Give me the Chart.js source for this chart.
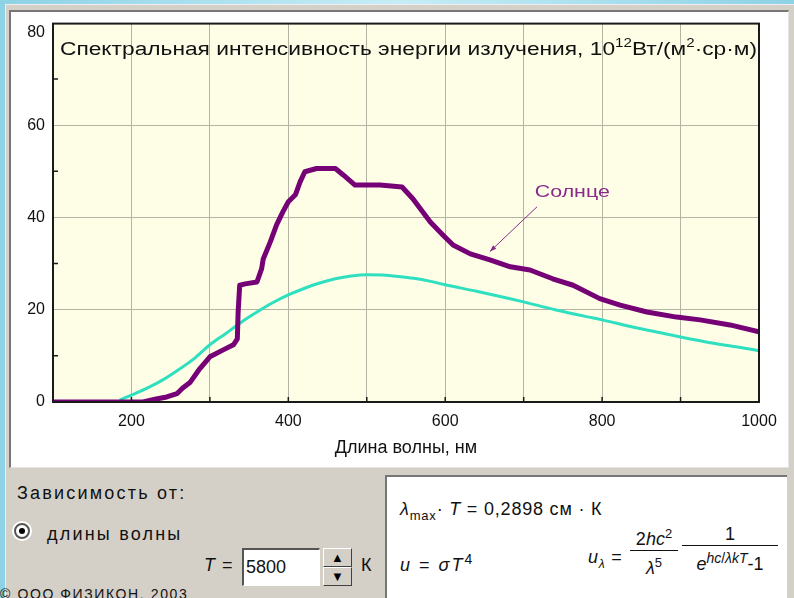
<!DOCTYPE html>
<html>
<head>
<meta charset="utf-8">
<script src="https://cdn.jsdelivr.net/npm/chart.js@4.4.0/dist/chart.umd.min.js"></script>
<style>
body { margin: 0; width: 794px; height: 598px; overflow: hidden; position: relative;
  background: linear-gradient(90deg, #8ed2e6, #c6edf6 50%, #8ed2e6);
  font-family: "Liberation Sans", Arial, sans-serif; color: #111; }
#frame { position: absolute; left: 5px; top: 4px; width: 789px; height: 594px; background: #d4d0c8;
  border-top: 1px solid #eeeeee; border-left: 1px solid #eeeeee; box-sizing: border-box; }
#plotbox { position: absolute; left: 9px; top: 10px; width: 780px; height: 458px; background: #fff;
  border-top: 2px solid #767676; border-left: 2px solid #767676; border-right: 1px solid #e4e4e4;
  border-bottom: 1px solid #e4e4e4; box-sizing: border-box; }
#chartWrap { position: absolute; left: 11px; top: 6px; width: 776px; height: 461px; }
.txt { position: absolute; white-space: nowrap; font-size: 18px; letter-spacing: 2.2px; }
#radio { position: absolute; left: 14px; top: 523px; width: 12px; height: 12px; border-radius: 50%;
  background: #fff; border: 2px solid #555; box-shadow: 0 0 0 2px #fff; }
#radio::after { content: ""; position: absolute; left: 3px; top: 3px; width: 6px; height: 6px; border-radius: 50%; background: #000; }
#tinput { position: absolute; left: 242px; top: 548px; width: 78px; height: 38px; background: #fff;
  border-top: 2px solid #555; border-left: 2px solid #555; border-right: 1px solid #fff; border-bottom: 1px solid #fff;
  box-sizing: border-box; font-size: 18px; line-height: 34px; padding-left: 2px; }
.spin { position: absolute; left: 323px; width: 29px; height: 19px; background: #d4d0c8; box-sizing: border-box;
  border-top: 1px solid #fff; border-left: 1px solid #fff; border-right: 1px solid #404040; border-bottom: 1px solid #404040;
  font-size: 13px; line-height: 17px; text-align: center; color: #000; }
#fbox { position: absolute; left: 385px; top: 475px; width: 402px; height: 123px; background: #fff;
  border-top: 2px solid #767676; border-left: 2px solid #767676; box-sizing: border-box; }
.f { position: absolute; white-space: nowrap; font-size: 18px; letter-spacing: 0.8px; }
.frac { position: absolute; display: flex; flex-direction: column; align-items: center; font-size: 18px; }
.frac .num { border-bottom: 1.5px solid #111; width: 100%; text-align: center; line-height: 22px; }
.frac .den { line-height: 24px; white-space: nowrap; }
</style>
</head>
<body>
<div id="frame"></div>
<div id="plotbox"></div>
<div id="chartWrap"><canvas id="chart" width="776" height="461"></canvas></div>

<div class="txt" style="left:17px;top:483px;">Зависимость от:</div>
<div id="radio"></div>
<div class="txt" style="left:47px;top:524px;">длины волны</div>
<div class="txt" style="left:204px;top:555px;letter-spacing:1px;"><i>T</i> =</div>
<div id="tinput">5800</div>
<div class="spin" style="top:548px;">&#9650;</div>
<div class="spin" style="top:567px;">&#9660;</div>
<div class="txt" style="left:361px;top:555px;">К</div>
<div class="txt" style="left:0px;top:586px;font-size:14px;letter-spacing:1.6px;">© ООО ФИЗИКОН, 2003</div>

<div id="fbox"></div>
<div class="f" style="left:400px;top:499px;"><i>λ</i><sub style="font-size:13px;">max</sub>· <i>T</i> = 0,2898 см · К</div>
<div class="f" style="left:400px;top:551px;letter-spacing:2px;"><i>u</i> = <i>σT</i><sup style="font-size:14px;">4</sup></div>
<div class="f" style="left:588px;top:547px;"><i>u</i><sub style="font-size:12px;"><i>λ</i></sub> =</div>
<div class="frac" style="left:630px;top:523px;width:48px;">
  <div class="num">2<i>hc</i><sup style="font-size:13px;">2</sup></div>
  <div class="den"><i>λ</i><sup style="font-size:13px;">5</sup></div>
</div>
<div class="frac" style="left:682px;top:523px;width:96px;">
  <div class="num">1</div>
  <div class="den"><i>e</i><sup style="font-size:14px;"><i>hc</i>/<i>λkT</i></sup>-1</div>
</div>

<script>
// Солнце (спектр), нм -> 10^12 Вт/(м2·ср·м)
const sunWl = [100, 215, 230, 245, 258, 265, 275, 287, 300, 317, 330, 335, 336, 338, 345, 360, 366, 368, 377, 385,
  393, 400, 409, 415, 421, 436, 460, 470, 485, 517, 545, 559, 581, 597, 610, 632, 657, 683, 708, 737,
  763, 797, 823, 857, 895, 925, 963, 1000];
const sunVal = [0, 0, 0.6, 1.1, 1.8, 3, 4.3, 7.2, 9.8, 11.3, 12.4, 13.7, 19.5, 25.3, 25.6, 26, 28.9, 31, 34.7, 38.4,
  41.2, 43.4, 44.9, 47.7, 49.9, 50.6, 50.6, 49.2, 47, 47, 46.6, 44, 39, 36.2, 34, 32.1, 30.8, 29.3, 28.6, 26.7,
  25.3, 22.4, 21, 19.5, 18.4, 17.8, 16.7, 15.2];

// черное тело, T = 5800 K
const bbWl = [185, 200, 220, 240, 260, 280, 300, 320, 340, 360, 380, 400, 420, 440, 460, 480, 500, 520, 540, 560,
  580, 600, 640, 680, 700, 740, 780, 800, 840, 880, 900, 940, 980, 1000];
const bbVal = [0.4, 1.5, 3.0, 4.8, 7.0, 9.4, 12.4, 14.8, 17.3, 19.5, 21.5, 23.2, 24.6, 25.8, 26.7, 27.3, 27.6, 27.5, 27.2, 26.8,
  26.2, 25.4, 24.0, 22.5, 21.7, 20.0, 18.5, 17.8, 16.2, 14.8, 14.1, 12.8, 11.7, 11.1];

const xGrid = [100, 200, 300, 400, 500, 600, 700, 800, 900, 1000];
const xLabels = [200, 400, 600, 800, 1000];
const yTicks = [0, 20, 40, 60, 80];
const yMinor = [10, 30, 50, 70];

const sunLabel = 'Солнце';
const sunLabelAt = [762, 45.5];
const sunArrow = [[717, 42.3], [657, 32.6]];

const titleParts = [
  { t: 'Спектральная интенсивность энергии излучения, 10', sup: false },
  { t: '12', sup: true },
  { t: 'Вт/(м', sup: false },
  { t: '2', sup: true },
  { t: '·ср·м)', sup: false }
];

const plotBg = {
  id: 'plotBg',
  beforeDraw(chart) {
    const { ctx, chartArea: a } = chart;
    ctx.save();
    ctx.fillStyle = '#fefee6';
    ctx.fillRect(a.left, a.top, a.right - a.left, a.bottom - a.top);
    ctx.restore();
  }
};

function drawParts(ctx, parts, x, base, size, target) {
  const supSize = Math.round(size * 0.68);
  let w = 0;
  parts.forEach(p => {
    ctx.font = (p.sup ? supSize : size) + 'px "Liberation Sans", Arial';
    w += ctx.measureText(p.t).width;
  });
  ctx.save();
  ctx.translate(x, base);
  ctx.scale(target / w, 1);
  let cx = 0;
  parts.forEach(p => {
    ctx.font = (p.sup ? supSize : size) + 'px "Liberation Sans", Arial';
    ctx.fillText(p.t, cx, p.sup ? -size * 0.42 : 0);
    cx += ctx.measureText(p.t).width;
  });
  ctx.restore();
}

const overlay = {
  id: 'overlay',
  afterDatasetsDraw(chart) {
    const { ctx, chartArea: a, scales: { x, y } } = chart;
    ctx.save();
    // minor ticks
    ctx.strokeStyle = '#1a1a1a';
    ctx.lineWidth = 1.5;
    ctx.beginPath();
    yMinor.forEach(v => { const py = y.getPixelForValue(v); ctx.moveTo(a.left, py); ctx.lineTo(a.left + 5, py); });
    xGrid.slice(1, -1).forEach(v => { const px = x.getPixelForValue(v); ctx.moveTo(px, a.bottom); ctx.lineTo(px, a.bottom - 5); });
    ctx.stroke();
    // frame
    ctx.lineWidth = 2;
    ctx.strokeRect(a.left, a.top, a.right - a.left, a.bottom - a.top);

    // title
    ctx.fillStyle = '#111';
    ctx.textBaseline = 'alphabetic';
    drawParts(ctx, titleParts, a.left + 7, a.top + 31, 18, 697);

    // annotation
    ctx.strokeStyle = '#8a2a8a';
    ctx.fillStyle = '#8a2a8a';
    ctx.lineWidth = 1;
    const x0 = x.getPixelForValue(sunArrow[0][0]), y0 = y.getPixelForValue(sunArrow[0][1]);
    const x1 = x.getPixelForValue(sunArrow[1][0]), y1 = y.getPixelForValue(sunArrow[1][1]);
    ctx.beginPath(); ctx.moveTo(x0, y0); ctx.lineTo(x1, y1); ctx.stroke();
    const ang = Math.atan2(y1 - y0, x1 - x0);
    ctx.beginPath();
    ctx.moveTo(x1, y1);
    ctx.lineTo(x1 - 7 * Math.cos(ang - 0.35), y1 - 7 * Math.sin(ang - 0.35));
    ctx.lineTo(x1 - 7 * Math.cos(ang + 0.35), y1 - 7 * Math.sin(ang + 0.35));
    ctx.closePath(); ctx.fill();
    ctx.font = '17px "Liberation Sans", Arial';
    const tw = ctx.measureText(sunLabel).width;
    ctx.save();
    ctx.translate(x.getPixelForValue(sunLabelAt[0]), y.getPixelForValue(sunLabelAt[1]));
    ctx.scale(75 / tw, 1);
    ctx.textAlign = 'center';
    ctx.textBaseline = 'middle';
    ctx.fillText(sunLabel, 0, 0);
    ctx.restore();
    ctx.restore();
  }
};

new Chart(document.getElementById('chart'), {
  type: 'line',
  data: {
    datasets: [
      {
        label: 'Солнце',
        data: sunWl.map((w, i) => ({ x: w, y: sunVal[i] })),
        borderColor: '#760076',
        borderWidth: 5,
        pointRadius: 0,
        borderJoinStyle: 'round',
        order: 0
      },
      {
        label: 'T = 5800 K',
        data: bbWl.map((w, i) => ({ x: w, y: bbVal[i] })),
        borderColor: '#2fe0c0',
        borderWidth: 3,
        pointRadius: 0,
        cubicInterpolationMode: 'monotone',
        order: 1
      }
    ]
  },
  options: {
    responsive: false,
    animation: false,
    layout: { padding: { top: 2, right: 28, left: 0, bottom: 0 } },
    plugins: { legend: { display: false }, tooltip: { enabled: false } },
    scales: {
      x: {
        type: 'linear',
        min: 100,
        max: 1000,
        afterBuildTicks: s => { s.ticks = xGrid.map(v => ({ value: v })); },
        afterFit: s => { s.height = 65; },
        border: { display: false },
        grid: {
          drawTicks: false,
          color: c => (c.tick && c.tick.value > 100 && c.tick.value < 1000) ? '#b4b4a4' : 'rgba(0,0,0,0)'
        },
        ticks: {
          autoSkip: false,
          maxRotation: 0,
          padding: 10,
          color: '#111',
          font: { family: '"Liberation Sans", Arial', size: 16 },
          callback: v => xLabels.includes(v) ? String(v) : ''
        },
        title: {
          display: true,
          text: 'Длина волны, нм',
          color: '#111',
          font: { family: '"Liberation Sans", Arial', size: 18 },
          padding: { top: 0, bottom: 8 }
        }
      },
      y: {
        min: 0,
        max: 82,
        afterBuildTicks: s => { s.ticks = yTicks.map(v => ({ value: v })); },
        afterFit: s => { s.width = 42; },
        border: { display: false },
        grid: {
          drawTicks: false,
          color: c => (c.tick && c.tick.value > 0 && c.tick.value < 80) ? '#b4b4a4' : 'rgba(0,0,0,0)'
        },
        ticks: {
          padding: 8,
          color: '#111',
          font: { family: '"Liberation Sans", Arial', size: 16 }
        }
      }
    }
  },
  plugins: [plotBg, overlay]
});
</script>
</body>
</html>
